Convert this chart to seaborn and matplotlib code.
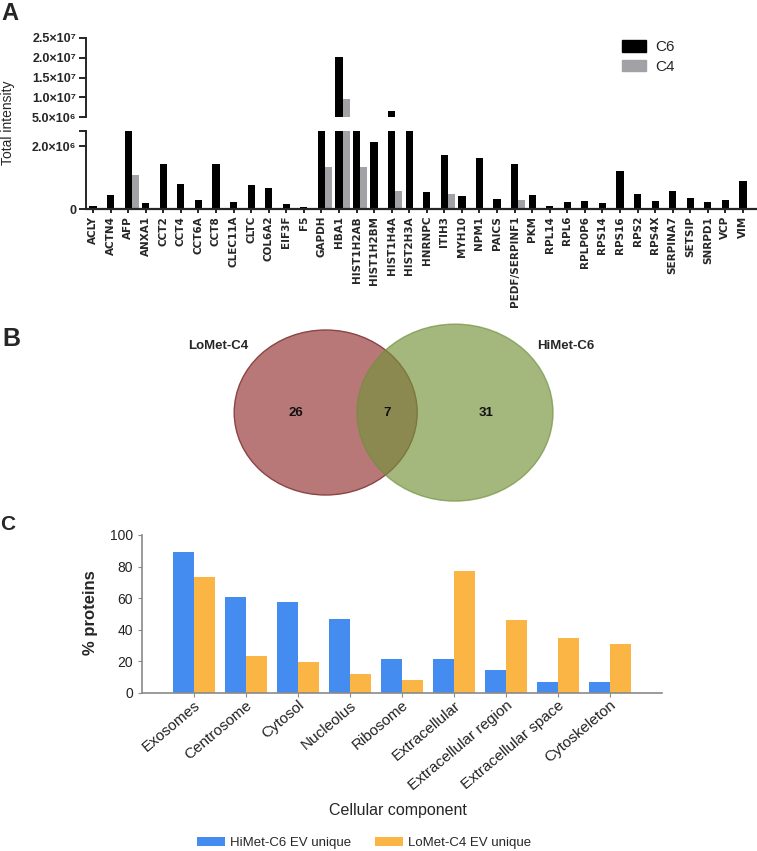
import numpy as np
import pandas as pd
import seaborn as sns
import matplotlib.pyplot as plt
from matplotlib.patches import Ellipse, Patch
from matplotlib import font_manager

# panel A: total intensity per protein
genes = ['ACLY', 'ACTN4', 'AFP', 'ANXA1', 'CCT2', 'CCT4', 'CCT6A', 'CCT8', 'CLEC11A', 'CLTC',
         'COL6A2', 'EIF3F', 'F5', 'GAPDH', 'HBA1', 'HIST1H2AB', 'HIST1H2BM', 'HIST1H4A', 'HIST2H3A',
         'HNRNPC', 'ITIH3', 'MYH10', 'NPM1', 'PAICS', 'PEDF/SERPINF1', 'PKM', 'RPL14', 'RPL6',
         'RPLP0P6', 'RPS14', 'RPS16', 'RPS2', 'RPS4X', 'SERPINA7', 'SETSIP', 'SNRPD1', 'VCP', 'VIM']
c6_intensity = [0.10e6, 0.46e6, 3.5e6, 0.19e6, 1.43e6, 0.81e6, 0.29e6, 1.43e6, 0.22e6, 0.76e6,
                0.67e6, 0.16e6, 0.05e6, 3.5e6, 2.02e7, 3.5e6, 2.14e6, 6.6e6, 3.5e6,
                0.54e6, 1.73e6, 0.43e6, 1.64e6, 0.32e6, 1.45e6, 0.45e6, 0.085e6, 0.22e6,
                0.24e6, 0.19e6, 1.21e6, 0.48e6, 0.26e6, 0.59e6, 0.35e6, 0.21e6, 0.29e6, 0.88e6]
c4_intensity = [0, 0, 1.10e6, 0, 0, 0, 0, 0, 0, 0,
                0, 0, 0, 1.34e6, 9.6e6, 1.34e6, 0, 0.59e6, 0,
                0, 0.48e6, 0, 0, 0, 0.29e6, 0, 0, 0,
                0, 0, 0, 0, 0, 0, 0, 0, 0, 0]
upper_ticks = [5e6, 1e7, 1.5e7, 2e7, 2.5e7]
upper_ticklabels = ['5.0×10⁶', '1.0×10⁷', '1.5×10⁷', '2.0×10⁷', '2.5×10⁷']

# panel B: venn counts (C4 only, shared, C6 only)
venn_labels = ['LoMet-C4', 'HiMet-C6']
venn_counts = [26, 7, 31]

# panel C: cellular component
components = ['Exosomes', 'Centrosome', 'Cytosol', 'Nucleolus', 'Ribosome', 'Extracellular',
              'Extracellular region', 'Extracellular space', 'Cytoskeleton']
himet_pct = [89.2, 60.7, 57.3, 46.5, 21.6, 21.6, 14.2, 7.0, 7.0]
lomet_pct = [73.1, 23.0, 19.2, 11.6, 7.8, 77.2, 46.3, 34.9, 30.9]
groups = ['HiMet-C6 EV unique', 'LoMet-C4 EV unique']

sns.set_style('ticks')
plt.rcParams['font.family'] = ['Liberation Sans', 'DejaVu Sans']


def has_font(name):
    try:
        font_manager.findfont(name, fallback_to_default=False)
        return True
    except ValueError:
        return False


narrow = ['Liberation Sans Narrow', 'DejaVu Sans'] if has_font('Liberation Sans Narrow') else ['DejaVu Sans']

W, H = 757, 851
fig = plt.figure(figsize=(W / 100, H / 100), dpi=100)


def box(x0, y0, x1, y1):
    return [x0 / W, 1 - y1 / H, (x1 - x0) / W, (y1 - y0) / H]


# ---- A: broken axis bar chart
ax_top = fig.add_axes(box(86, 37.7, 757, 117.3))
ax_bot = fig.add_axes(box(86, 130.7, 757, 209))
pos = np.arange(len(genes))
bw = 0.41
for ax in (ax_top, ax_bot):
    sns.barplot(x=pos, y=c6_intensity, native_scale=True, width=bw, color='black',
                saturation=1, errorbar=None, linewidth=0, ax=ax)
    sns.barplot(x=pos + bw, y=c4_intensity, native_scale=True, width=bw, color='#a2a2a6',
                saturation=1, errorbar=None, linewidth=0, ax=ax)
    ax.set_xlim(-0.4, 37.8)
    ax.set_xlabel('')
    ax.set_ylabel('')
    for s in ['top', 'right']:
        ax.spines[s].set_visible(False)
    ax.spines['left'].set_linewidth(1.4)
    ax.spines['bottom'].set_linewidth(1.6)
    ax.tick_params(width=1.4, length=5, labelsize=9, pad=2)

ax_top.spines['bottom'].set_visible(False)
ax_top.set_xticks([])
ax_top.set_ylim(5e6, 2.5e7)
ax_top.set_yticks(upper_ticks)
ax_top.set_yticklabels(upper_ticklabels, fontweight='bold')

ax_bot.set_ylim(0, 2.5e6)
ax_bot.set_yticks([0, 2e6, 2.5e6])
ax_bot.set_yticklabels(['0', '2.0×10⁶', ''], fontweight='bold')
ax_bot.set_xticks(pos)
ax_bot.set_xticklabels(genes, rotation=90, fontsize=7.5, fontweight='bold', family=narrow)
ax_bot.tick_params(axis='x', length=3, pad=2)

fig.text(8 / W, 1 - 123 / H, 'Total intensity', rotation=90, ha='center', va='center', fontsize=10)
ax_top.legend(handles=[Patch(color='black'), Patch(color='#a2a2a6')], labels=['C6', 'C4'],
              loc='upper left', bbox_to_anchor=(622 / W, 1 - 40 / H), bbox_transform=fig.transFigure,
              frameon=False, fontsize=11, handlelength=1.6, handleheight=0.8, handletextpad=0.6,
              labelspacing=0.35, borderpad=0, borderaxespad=0)

# ---- B: venn
ax_v = fig.add_axes(box(150, 300, 620, 520))
ax_v.set_xlim(150, 620)
ax_v.set_ylim(520, 300)
ax_v.axis('off')
ax_v.add_patch(Ellipse((325.7, 412.5), 183, 165, facecolor='#b87878', edgecolor='#8c4444', lw=1))
ax_v.add_patch(Ellipse((455, 412.6), 196, 177, facecolor='#75923a', edgecolor='#6f8f3c', lw=1, alpha=0.66))
for x, n in zip([295.7, 387.3, 485.7], venn_counts):
    ax_v.text(x, 413, str(n), ha='center', va='center', fontsize=9.5, fontweight='bold', color='#111111')
ax_v.text(218, 346, venn_labels[0], ha='center', va='center', fontsize=9.5, fontweight='bold')
ax_v.text(566, 346, venn_labels[1], ha='center', va='center', fontsize=9.5, fontweight='bold')

# ---- C: cellular component bars
df = pd.DataFrame({'component': components * 2,
                   'pct': himet_pct + lomet_pct,
                   'group': [groups[0]] * len(components) + [groups[1]] * len(components)})
ax_c = fig.add_axes(box(142, 535, 662, 692.7))
sns.barplot(data=df, x='component', y='pct', hue='group', palette=['#448cf0', '#fbb544'],
            saturation=1, width=0.8, errorbar=None, linewidth=0, ax=ax_c)
ax_c.set_xlim(-1, 9)
ax_c.set_ylim(0, 100)
ax_c.set_yticks([0, 20, 40, 60, 80, 100])
ax_c.set_xlabel('')
ax_c.set_ylabel('')
for s in ['top', 'right']:
    ax_c.spines[s].set_visible(False)
for s in ['left', 'bottom']:
    ax_c.spines[s].set_color('#8a8a8a')
    ax_c.spines[s].set_linewidth(1.2)
ax_c.tick_params(colors='#8a8a8a', labelcolor='#222222', length=3, labelsize=10)
ax_c.set_xticks(range(len(components)))
ax_c.set_xticklabels(components, rotation=40, ha='right', rotation_mode='anchor', fontsize=11)
ax_c.tick_params(axis='x', pad=1)

handles, labels = ax_c.get_legend_handles_labels()
ax_c.legend_.remove()
fig.legend(handles, labels, loc='center', bbox_to_anchor=(364 / W, 1 - 843 / H), ncol=2,
           frameon=False, fontsize=9.5, handlelength=2.1, handleheight=0.75, handletextpad=0.4,
           columnspacing=1.8)
fig.text(90 / W, 1 - 613 / H, '% proteins', rotation=90, ha='center', va='center',
         fontsize=12, fontweight='bold')
fig.text(398 / W, 1 - 810 / H, 'Cellular component', ha='center', va='center', fontsize=11.5)

# panel letters
fig.text(1 / W, 1 - 2 / H, 'A', fontsize=17, fontweight='bold', va='top')
fig.text(2 / W, 1 - 327 / H, 'B', fontsize=18, fontweight='bold', va='top')
fig.text(0 / W, 1 - 515 / H, 'C', fontsize=15, fontweight='bold', va='top')

fig.savefig('out.png', dpi=100)
